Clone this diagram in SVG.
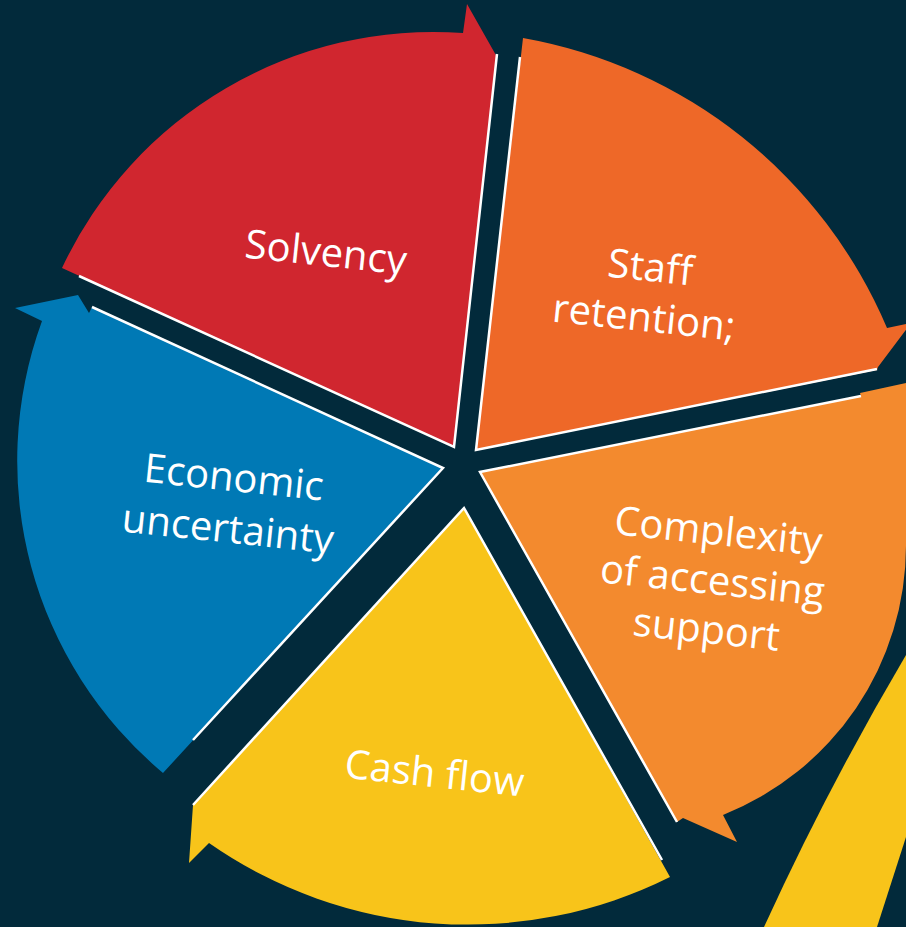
<svg xmlns="http://www.w3.org/2000/svg" width="906" height="927" viewBox="0 0 906 927">
  <style>
    .bg { fill: #022A3B; }
    .red { fill: #D0262F; }
    .staff { fill: #EE6828; }
    .cplx { fill: #F38A2E; }
    .yellow { fill: #F8C41A; }
    .blue { fill: #0079B5; }
    .edge { fill: none; stroke: #FFFFFF; stroke-width: 2.5; stroke-linecap: butt; }
    .lbl { fill: #FFFFFF; font-family: "Open Sans", "Noto Sans", sans-serif; font-size: 40px; text-anchor: middle; }
  </style>

  <rect class="bg" x="0" y="0" width="906" height="927"/>

  <!-- segment of the next ring, partly visible at the lower right -->
  <g id="ring-tail">
    <path class="yellow" d="M906,655 Q828,787 764,927 L877,927 L906,837 Z"/>
  </g>

  <g id="node-solvency">
    <path class="red" d="M454,447 L497,57 L467,4 L463,33 A410,410 0 0 0 62,268 Z"/>
    <path class="edge" d="M497,54 L454,447 L79,276"/>
    <text class="lbl" x="324.5" y="266" transform="rotate(6 324.5 266)">Solvency</text>
  </g>

  <g id="node-staff-retention">
    <path class="staff" d="M476,450 L523,38 A488,488 0 0 1 887,328 L911,323 L878,367 L877,370 Z"/>
    <path class="edge" d="M520,57 L476,450 L877,369"/>
    <text class="lbl" x="649" y="281" transform="rotate(6 649 281)">Staff</text>
    <text class="lbl" x="642.5" y="331" transform="rotate(6 642.5 331)">retention;</text>
  </g>

  <g id="node-complexity">
    <path class="cplx" d="M480,472 L861,396 L860,393 L906,383 L920,380 L920,545 L906,545 A290,290 0 0 1 723,815 L737,842 L683,818 L677,822 Z"/>
    <path class="edge" d="M861,396 L480,472 L677,822"/>
    <text class="lbl" x="717" y="545" transform="rotate(6 717 545)">Complexity</text>
    <text class="lbl" x="711" y="594" transform="rotate(6 711 594)">of accessing</text>
    <text class="lbl" x="705" y="643" transform="rotate(6 705 643)">support</text>
  </g>

  <g id="node-cash-flow">
    <path class="yellow" d="M464,508 L193,805 L189,863 L209,843 A452,452 0 0 0 670,877 Z"/>
    <path class="edge" d="M193,805 L464,508 L662,860"/>
    <text class="lbl" x="433" y="787" transform="rotate(6 433 787)">Cash flow</text>
  </g>

  <g id="node-economic-uncertainty">
    <path class="blue" d="M443,468 L92,307 L89,313 L78,295 L15,308 L42,321 A407,407 0 0 0 163,773 Z"/>
    <path class="edge" d="M92,307 L443,468 L193,740"/>
    <text class="lbl" x="232.5" y="491" transform="rotate(6 232.5 491)">Economic</text>
    <text class="lbl" x="226.5" y="542.5" transform="rotate(6 226.5 542.5)">uncertainty</text>
  </g>
</svg>
